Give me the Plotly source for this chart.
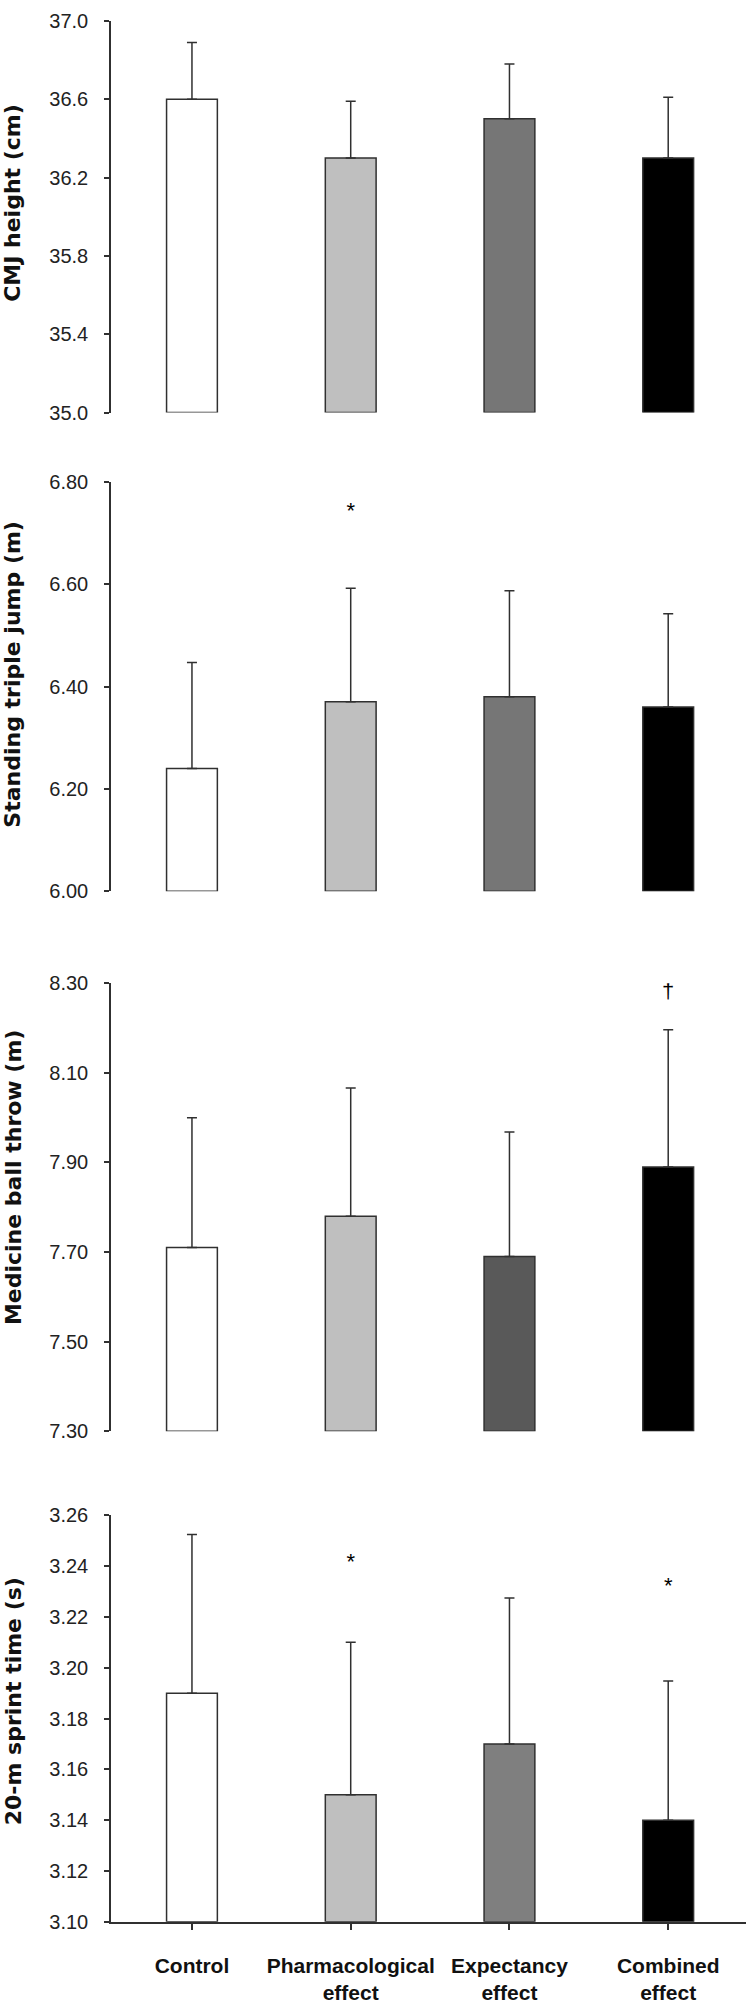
import plotly.graph_objects as go

# ---------------- data ----------------
categories = ["Control", "Pharmacological<br>effect", "Expectancy<br>effect", "Combined<br>effect"]

cmj_mean = [36.60, 36.30, 36.50, 36.30]
cmj_sd = [0.29, 0.29, 0.28, 0.31]

tj_mean = [6.24, 6.37, 6.38, 6.36]
tj_sd = [0.207, 0.222, 0.207, 0.182]

mb_mean = [7.71, 7.78, 7.69, 7.89]
mb_sd = [0.29, 0.286, 0.278, 0.306]

sp_mean = [3.19, 3.15, 3.17, 3.14]
sp_sd = [0.0625, 0.060, 0.0575, 0.0548]

# significance markers: (category index, symbol, y value)
tj_marks_x = [1]
tj_marks_y = [6.74]
tj_marks_txt = ["*"]
mb_marks_x = [3]
mb_marks_y = [8.28]
mb_marks_txt = ["†"]
sp_marks_x = [1, 3]
sp_marks_y = [3.241, 3.2315]
sp_marks_txt = ["*", "*"]

titles = ["CMJ height (cm)", "Standing triple jump (m)", "Medicine ball throw (m)", "20-m sprint time (s)"]
y_ranges = [[35.0, 37.0], [6.00, 6.80], [7.30, 8.30], [3.10, 3.26]]
y_dticks = [0.4, 0.2, 0.2, 0.02]
y_formats = [".1f", ".2f", ".2f", ".2f"]

fills = [
    ["#ffffff", "#bfbfbf", "#767676", "#000000"],
    ["#ffffff", "#bfbfbf", "#767676", "#000000"],
    ["#ffffff", "#bfbfbf", "#595959", "#000000"],
    ["#ffffff", "#bfbfbf", "#7f7f7f", "#000000"],
]

# ---------------- layout geometry (pixels) ----------------
W, H = 746, 2007
axis_x = 111
panel_px = [(10, 406), (476, 890), (983, 1436), (1521, 1932)]
title_px = [194, 671, 1180, 1709]

means = [cmj_mean, tj_mean, mb_mean, sp_mean]
sds = [cmj_sd, tj_sd, mb_sd, sp_sd]
marks = [None, (tj_marks_x, tj_marks_y, tj_marks_txt), (mb_marks_x, mb_marks_y, mb_marks_txt),
         (sp_marks_x, sp_marks_y, sp_marks_txt)]

fig = go.Figure()
line_col = "#303030"
for i in range(4):
    xa = "x" if i == 0 else f"x{i+1}"
    ya = "y" if i == 0 else f"y{i+1}"
    lo = y_ranges[i][0]
    fig.add_trace(go.Bar(
        x=categories, y=[m - lo for m in means[i]], base=lo,
        width=0.32,
        marker=dict(color=fills[i], line=dict(color=line_col, width=1.5)),
        xaxis=xa, yaxis=ya, showlegend=False, hoverinfo="skip",
    ))
    fig.add_trace(go.Scatter(
        x=categories, y=means[i], mode="markers",
        marker=dict(size=1, opacity=0),
        error_y=dict(type="data", symmetric=False, array=sds[i], arrayminus=[0] * 4,
                     color=line_col, thickness=1.5, width=5),
        xaxis=xa, yaxis=ya, showlegend=False, hoverinfo="skip",
    ))
    if marks[i] is not None:
        mx, my, mt = marks[i]
        fig.add_trace(go.Scatter(
            x=[categories[k] for k in mx], y=my, mode="text", text=mt,
            textposition="middle center",
            textfont=dict(family="Liberation Sans, Arial", size=22, color="#000000"),
            xaxis=xa, yaxis=ya, showlegend=False, hoverinfo="skip",
        ))

layout = dict(
    width=W, height=H,
    margin=dict(l=0, r=0, t=0, b=0),
    paper_bgcolor="white", plot_bgcolor="white",
    bargap=0.5,
    font=dict(family="Liberation Sans, Arial", color="#222222"),
)
for i in range(4):
    xk = "xaxis" if i == 0 else f"xaxis{i+1}"
    yk = "yaxis" if i == 0 else f"yaxis{i+1}"
    top, bot = panel_px[i]
    dom = [1 - bot / H, 1 - top / H]
    ya = "y" if i == 0 else f"y{i+1}"
    xa = "x" if i == 0 else f"x{i+1}"
    last = i == 3
    layout[xk] = dict(
        domain=[axis_x / W, 1], anchor=ya, type="category",
        categoryorder="array", categoryarray=categories,
        range=[-0.51, 3.49], fixedrange=True,
        showgrid=False, zeroline=False,
        showline=last, linecolor=line_col, linewidth=1.5,
        ticks="outside" if last else "", ticklen=6, tickwidth=1.5, tickcolor=line_col,
        showticklabels=last,
        tickfont=dict(family="Liberation Sans, Arial", size=21, color="#111111", weight="bold"),
        ticklabelstandoff=18,
    )
    layout[yk] = dict(
        domain=dom, anchor=xa, range=y_ranges[i],
        tick0=y_ranges[i][0], dtick=y_dticks[i], tickformat=y_formats[i],
        showgrid=False, zeroline=False,
        showline=True, linecolor=line_col, linewidth=1.5,
        ticks="outside", ticklen=5, tickwidth=1.5, tickcolor=line_col,
        tickfont=dict(family="Liberation Sans, Arial", size=20, color="#222222"),
        ticklabelstandoff=12,
    )
fig.update_layout(**layout)

for i in range(4):
    fig.add_annotation(
        text=titles[i], textangle=-90, showarrow=False,
        xref="paper", yref="paper", x=13 / W, y=1 - title_px[i] / H,
        xanchor="center", yanchor="middle",
        font=dict(family="DejaVu Sans", size=22, color="#111111", weight="bold"),
    )

fig.write_html("out.html")
